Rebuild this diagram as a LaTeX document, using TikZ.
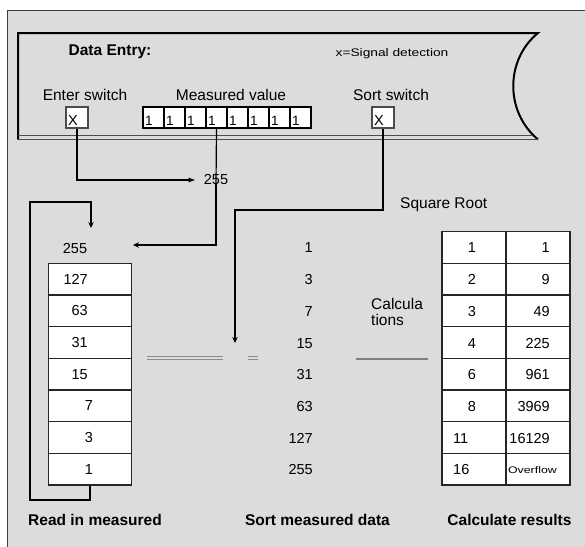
\documentclass[tikz,border=0pt]{standalone}
\usepackage{fontspec}
\setmainfont{Liberation Sans}
\usetikzlibrary{arrows.meta}
\definecolor{bg}{HTML}{DCDCDC}
\begin{document}
\begin{tikzpicture}[x=1pt,y=-1pt,
  lbl/.style={inner sep=0pt, font=\fontsize{15.5}{16}\selectfont},
  blbl/.style={inner sep=0pt, font=\fontsize{15.5}{16}\selectfont\bfseries},
  num/.style={inner sep=0pt, font=\fontsize{14.5}{15}\selectfont},
  cell/.style={draw=black!85, line width=1.3pt, fill=white, inner sep=0pt},
  bitcell/.style={cell, draw=black, minimum width=21pt, minimum height=21pt},
  stackcell/.style={cell, minimum width=83pt, minimum height=31.7pt},
  rescell/.style={cell, minimum width=64pt, minimum height=31.7pt},
  conn/.style={line width=1.2pt},
  heavy/.style={line width=2.2pt},
  tip/.style={-{Stealth[length=6pt,width=5.5pt]}},
]
\useasboundingbox (0,0) rectangle (585,546);
\clip (0,0) rectangle (585,546);
\fill[white] (0,0) rectangle (585,546);
\fill[bg] (7.5,10.5) rectangle (600,560);
\draw[black!75, line width=1.5pt] (7.5,560) -- (7.5,10.5) -- (600,10.5);

% Data entry panel
\draw[line width=2pt, line join=miter] (18,139.5) -- (18,33) -- (538,33)
  .. controls (505,60) and (505,112) .. (538,139.5);
\draw[black!70, line width=1pt] (18,135) -- (533,135) (18,139.5) -- (538,139.5);

\node[blbl] (title) at (110,52) {Data Entry:};
\node[inner sep=0pt, font=\fontsize{11}{12}\selectfont] (legend) at (392,54)
  {\scalebox{1.25}[1]{x=Signal detection}};
\node[lbl] (enterlbl) at (85,95) {Enter switch};
\node[lbl] (measlbl) at (231,95) {Measured value};
\node[lbl] (sortlbl) at (391,95) {Sort switch};

\node[cell, draw=black!70, minimum width=22pt, minimum height=21pt] (enterbox) at (77,117.5) {};
\node[num, anchor=base west] (enterx) at (68,125.5) {X};
\node[cell, draw=black!70, minimum width=22pt, minimum height=21pt] (sortbox) at (383,117.5) {};
\node[num, anchor=base west] (sortx) at (374,125.5) {X};

\foreach \i in {1,...,8} {
  \node[bitcell] (m\i) at ({132.5+21*\i},117.5) {};
  \node[anchor=base west, inner sep=0pt, font=\fontsize{13.5}{14}\selectfont] (mb\i) at ({124+21*\i},125.5) {1};
}

% 255 and connectors
\node[num] (v255) at (216,180) {255};
\draw[conn, -{Latex[open,length=7pt,width=5pt]}] (enterbox.south) |- ([xshift=-8pt]v255.west);
\draw[conn] (m4.south) -- ([yshift=-9pt]v255.north);

\coordinate (inarrow) at (133,245);
\draw[heavy, tip] ([yshift=2pt]v255.south) |- (inarrow);

% Read in stack
\node[num] (top255) at (75,249) {255};
\foreach \i in {1,...,7} {
  \node[stackcell] (s\i) at (90,{263.2+31.7*(\i-1)+15.85}) {};
}
\node[num, anchor=east] (sv1) at (88,{263.2+15.85}) {127};
\node[num, anchor=east] (sv2) at (88,{263.2+31.7+15.85}) {63};
\node[num, anchor=east] (sv3) at (88,{263.2+63.4+15.85}) {31};
\node[num, anchor=east] (sv4) at (88,{263.2+95.1+15.85}) {15};
\node[num] (sv5) at (89,{263.2+126.8+15.85}) {7};
\node[num] (sv6) at (89,{263.2+158.5+15.85}) {3};
\node[num] (sv7) at (89,{263.2+190.2+15.85}) {1};

\coordinate (lp1) at (30,500);
\coordinate (lp2) at (30,202);
\coordinate (lpend) at (91,228);
\draw[heavy, tip] (s7.south) |- (lp1) -- (lp2) -| (lpend);

% Sort column
\foreach \v [count=\i] in {1,3,7,15,31,63,127,255} {
  \node[num, anchor=east] (mid\i) at (313,{231.5+31.7*(\i-1)+16.5}) {\v};
}
\coordinate (sortbend) at (235,210);
\coordinate (sortend) at (235,343);
\draw[heavy, tip] (sortbox.south) |- (sortbend) -- (sortend);

% faint separator lines
\draw[black!45, line width=0.8pt] (147,356.5) -- (223,356.5) (147,359.5) -- (223,359.5)
  (248,356.5) -- (258,356.5) (248,359.5) -- (258,359.5);
\draw[black!50, line width=2.5pt] (356,359) -- (428,359);

\node[lbl, anchor=west] (sqrt) at (400,205) {Square Root};
\node[lbl, anchor=north west, align=left, font=\fontsize{15.5}{16}\selectfont] (calc) at (371,298) {Calcula\\tions};

% Results table
\foreach \i in {1,...,8} {
  \node[rescell] (ra\i) at (474,{231.5+31.7*(\i-1)+15.85}) {};
  \node[rescell] (rb\i) at (538,{231.5+31.7*(\i-1)+15.85}) {};
}
\foreach \a [count=\i] in {1,2,3,4,6,8} {
  \node[num] (ta\i) at (472,{231.5+31.7*(\i-1)+16.5}) {\a};
}
\node[num, anchor=west] (ta7) at (453,{231.5+31.7*6+16.5}) {11};
\node[num, anchor=west] (ta8) at (453,{231.5+31.7*7+16.5}) {16};
\foreach \b [count=\i] in {1,9,49,225,961,3969,16129} {
  \node[num, anchor=east] (tb\i) at (550,{231.5+31.7*(\i-1)+16.5}) {\b};
}
\node[inner sep=0pt, anchor=east, font=\fontsize{9.5}{10}\selectfont] (tb8) at (557,{231.5+31.7*7+17})
  {\scalebox{1.3}[1]{Overflow}};

% Bottom captions
\node[blbl] (cap1) at (95,520) {Read in measured};
\node[blbl] (cap2) at (317.5,520) {Sort measured data};
\node[blbl] (cap3) at (509.5,520) {Calculate results};
\end{tikzpicture}
\end{document}
